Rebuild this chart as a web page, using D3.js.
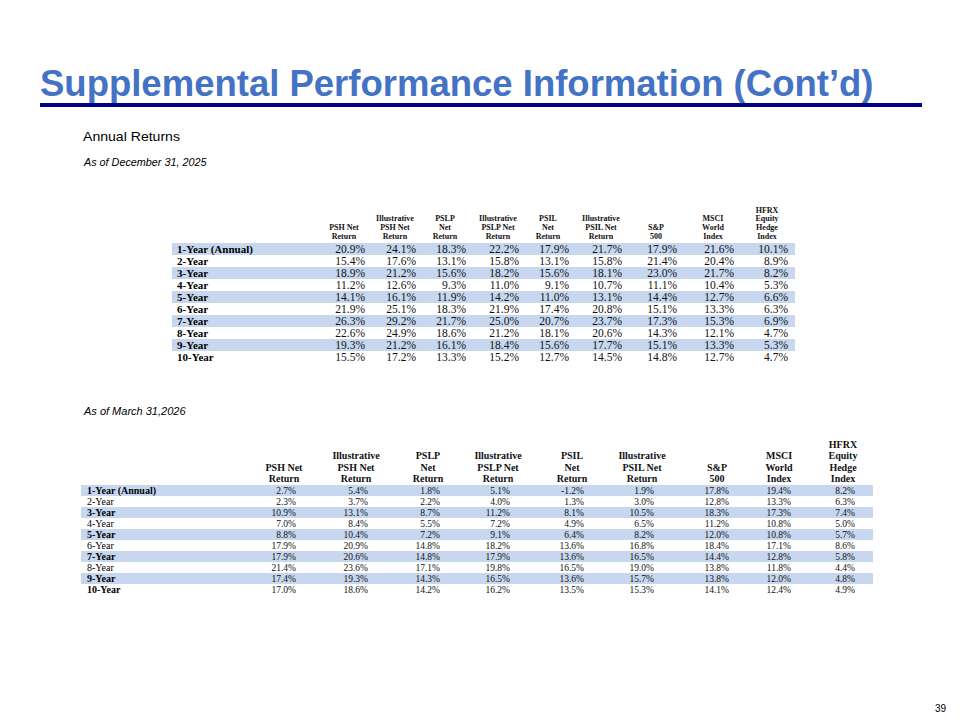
<!DOCTYPE html>
<html>
<head>
<meta charset="utf-8">
<script src="https://cdn.jsdelivr.net/npm/d3@7"></script>
<style>
  body { margin: 0; background: #fff; }
  svg { display: block; }
</style>
</head>
<body>
<svg id="slide" width="960" height="720"></svg>
<script>
// row labels + column headers (shared by both tables)
const rowLabels = ["1-Year (Annual)", "2-Year", "3-Year", "4-Year", "5-Year",
  "6-Year", "7-Year", "8-Year", "9-Year", "10-Year"];

const columnHeaders = [
  ["PSH Net", "Return"],
  ["Illustrative", "PSH Net", "Return"],
  ["PSLP", "Net", "Return"],
  ["Illustrative", "PSLP Net", "Return"],
  ["PSIL", "Net", "Return"],
  ["Illustrative", "PSIL Net", "Return"],
  ["S&P", "500"],
  ["MSCI", "World", "Index"],
  ["HFRX", "Equity", "Hedge", "Index"]
];

// As of December 31, 2025
const pshNet25   = [20.9, 15.4, 18.9, 11.2, 14.1, 21.9, 26.3, 22.6, 19.3, 15.5];
const illPsh25   = [24.1, 17.6, 21.2, 12.6, 16.1, 25.1, 29.2, 24.9, 21.2, 17.2];
const pslp25     = [18.3, 13.1, 15.6, 9.3, 11.9, 18.3, 21.7, 18.6, 16.1, 13.3];
const illPslp25  = [22.2, 15.8, 18.2, 11.0, 14.2, 21.9, 25.0, 21.2, 18.4, 15.2];
const psil25     = [17.9, 13.1, 15.6, 9.1, 11.0, 17.4, 20.7, 18.1, 15.6, 12.7];
const illPsil25  = [21.7, 15.8, 18.1, 10.7, 13.1, 20.8, 23.7, 20.6, 17.7, 14.5];
const sp25       = [17.9, 21.4, 23.0, 11.1, 14.4, 15.1, 17.3, 14.3, 15.1, 14.8];
const msci25     = [21.6, 20.4, 21.7, 10.4, 12.7, 13.3, 15.3, 12.1, 13.3, 12.7];
const hfrx25     = [10.1, 8.9, 8.2, 5.3, 6.6, 6.3, 6.9, 4.7, 5.3, 4.7];

// As of March 31, 2026
const pshNet26   = [2.7, 2.3, 10.9, 7.0, 8.8, 17.9, 17.9, 21.4, 17.4, 17.0];
const illPsh26   = [5.4, 3.7, 13.1, 8.4, 10.4, 20.9, 20.6, 23.6, 19.3, 18.6];
const pslp26     = [1.8, 2.2, 8.7, 5.5, 7.2, 14.8, 14.8, 17.1, 14.3, 14.2];
const illPslp26  = [5.1, 4.0, 11.2, 7.2, 9.1, 18.2, 17.9, 19.8, 16.5, 16.2];
const psil26     = [-1.2, 1.3, 8.1, 4.9, 6.4, 13.6, 13.6, 16.5, 13.6, 13.5];
const illPsil26  = [1.9, 3.0, 10.5, 6.5, 8.2, 16.8, 16.5, 19.0, 15.7, 15.3];
const sp26       = [17.8, 12.8, 18.3, 11.2, 12.0, 18.4, 14.4, 13.8, 13.8, 14.1];
const msci26     = [19.4, 13.3, 17.3, 10.8, 10.8, 17.1, 12.8, 11.8, 12.0, 12.4];
const hfrx26     = [8.2, 6.3, 7.4, 5.0, 5.7, 8.6, 5.8, 4.4, 4.8, 4.9];

const series25 = [pshNet25, illPsh25, pslp25, illPslp25, psil25, illPsil25, sp25, msci25, hfrx25];
const series26 = [pshNet26, illPsh26, pslp26, illPslp26, psil26, illPsil26, sp26, msci26, hfrx26];

const svg = d3.select("#slide");
const serif = "'Liberation Serif', 'Times New Roman', serif";
const sans = "'Liberation Sans', Arial, sans-serif";
const fmt = d => d.toFixed(1) + "%";

// title + rule
svg.append("text")
  .attr("x", 40).attr("y", 96)
  .attr("font-family", sans).attr("font-weight", "bold")
  .attr("font-size", 36.5).attr("fill", "#4472c4")
  .text("Supplemental Performance Information (Cont\u2019d)");

svg.append("rect")
  .attr("x", 40).attr("y", 103).attr("width", 882).attr("height", 4)
  .attr("fill", "#000080");

svg.append("text")
  .attr("x", 83).attr("y", 141)
  .attr("font-family", "'Liberation Sans Narrow', 'Arial Narrow', " + sans)
  .attr("font-size", 13)
  .attr("textLength", 97).attr("lengthAdjust", "spacingAndGlyphs")
  .attr("fill", "#000")
  .text("Annual Returns");

svg.append("text")
  .attr("x", 84).attr("y", 166)
  .attr("font-family", "'Liberation Sans Narrow', 'Arial Narrow', " + sans)
  .attr("font-style", "italic")
  .attr("font-size", 10.8).attr("fill", "#000")
  .text("As of December 31, 2025");

svg.append("text")
  .attr("x", 84).attr("y", 415)
  .attr("font-family", sans).attr("font-style", "italic")
  .attr("font-size", 11).attr("fill", "#000")
  .text("As of March 31,2026");

svg.append("text")
  .attr("x", 946).attr("y", 712)
  .attr("text-anchor", "end")
  .attr("font-family", sans).attr("font-size", 10).attr("fill", "#000")
  .text("39");

// one table
function drawTable(opt) {
  const g = svg.append("g");
  const cols = d3.range(columnHeaders.length);

  const y = d3.scaleBand()
    .domain(rowLabels)
    .range([opt.top, opt.top + opt.rowH * rowLabels.length]);

  const x = d3.scaleOrdinal()
    .domain(cols)
    .range(opt.centers);

  // shaded bands every other row
  g.selectAll("rect.band")
    .data(rowLabels.filter((d, i) => i % 2 === 0))
    .enter().append("rect")
    .attr("class", "band")
    .attr("x", opt.left)
    .attr("y", d => y(d))
    .attr("width", opt.right - opt.left)
    .attr("height", y.bandwidth())
    .attr("fill", "#c6d7ef");

  // headers, bottom aligned
  cols.forEach(c => {
    const lines = columnHeaders[c];
    lines.forEach((line, k) => {
      g.append("text")
        .attr("x", x(c))
        .attr("y", opt.headBottom - (lines.length - 1 - k) * opt.headLineH)
        .attr("text-anchor", "middle")
        .attr("font-family", serif)
        .attr("font-weight", "bold")
        .attr("font-size", opt.headSize)
        .attr("fill", "#111")
        .text(line);
    });
  });

  // row labels
  g.selectAll("text.rowlabel")
    .data(rowLabels)
    .enter().append("text")
    .attr("class", "rowlabel")
    .attr("x", opt.labelX)
    .attr("y", d => y(d) + y.bandwidth() / 2)
    .attr("dy", "0.35em")
    .attr("font-family", serif)
    .attr("font-weight", (d, i) => opt.boldRow(i) ? "bold" : "normal")
    .attr("font-size", opt.labelSize)
    .attr("fill", "#000")
    .text(d => d);

  // values
  opt.series.forEach((vals, c) => {
    g.selectAll("text.v" + c)
      .data(vals)
      .enter().append("text")
      .attr("class", "v" + c)
      .attr("x", x(c) + opt.valueShift)
      .attr("y", (d, i) => y(rowLabels[i]) + y.bandwidth() / 2)
      .attr("dy", "0.35em")
      .attr("text-anchor", "end")
      .attr("font-family", serif)
      .attr("font-size", opt.valueSize)
      .attr("fill", "#111")
      .text(fmt);
  });
}

drawTable({
  series: series25,
  top: 243, rowH: 12,
  left: 172, right: 795,
  labelX: 177,
  centers: [344, 395, 445, 498, 548, 601, 656, 713, 767],
  valueShift: 21,
  headBottom: 239, headLineH: 8.8, headSize: 8,
  labelSize: 11, valueSize: 11.5,
  boldRow: () => true
});

drawTable({
  series: series26,
  top: 485, rowH: 11,
  left: 81, right: 873,
  labelX: 87,
  centers: [284, 356, 428, 498, 572, 642, 717, 779, 843],
  valueShift: 12,
  headBottom: 482, headLineH: 11.5, headSize: 10,
  labelSize: 10, valueSize: 9.5,
  boldRow: i => i % 2 === 0 || i === 9
});
</script>
</body>
</html>
